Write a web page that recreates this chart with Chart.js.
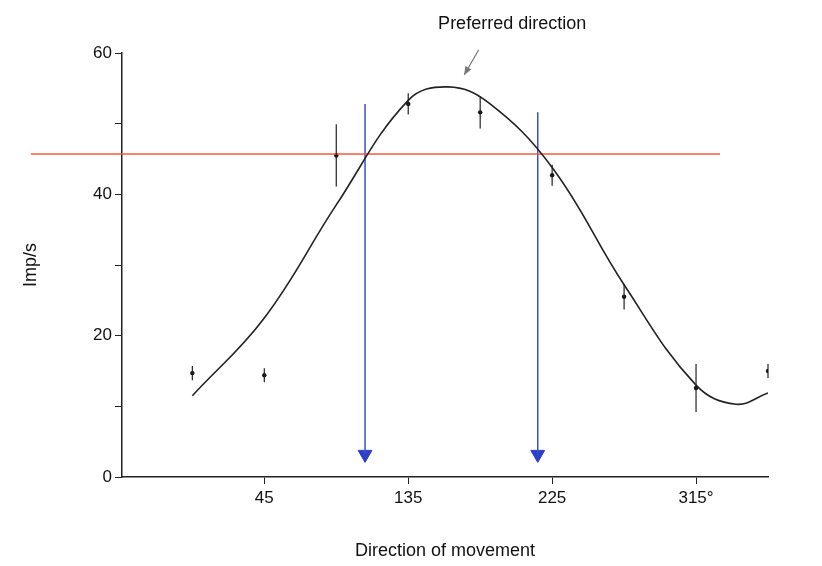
<!DOCTYPE html>
<html>
<head>
<meta charset="utf-8">
<script src="https://cdn.jsdelivr.net/npm/chart.js@4"></script>
<style>
  html, body { margin: 0; padding: 0; background: #fff; }
  #wrap { width: 822px; height: 566px; }
</style>
</head>
<body>
<div id="wrap"><canvas id="chart"></canvas></div>
<script>
// Measured points (direction in degrees, rate in imp/s, error half-height)
const directions = [0, 45, 90, 135, 180, 225, 270, 315, 360];
const rates = [14.7, 14.4, 45.5, 52.8, 51.6, 42.7, 25.5, 12.6, 15.0];
const errors = [1.0, 1.0, 4.4, 1.5, 2.3, 1.5, 1.8, 3.4, 1.0];

// Fitted tuning curve
const curveX = [0, 45, 90, 135, 160, 185, 225, 270, 315, 340, 360];
const curveY = [11.5, 22.5, 38.5, 53.3, 55.2, 53, 43.8, 27.2, 13, 10.3, 11.9];

// Half-maximum threshold line
const thresholdX = [-101, 330];
const thresholdY = [45.7, 45.7];

// Arrows at the crossing directions
const arrowX = [108, 216];
const arrowTop = [52.8, 51.6];
const arrowBottom = [1.7, 1.7];

const xTickLabels = [45, 135, 225, 315];
const yTickLabels = [0, 20, 40, 60];

const toXY = (xs, ys) => xs.map((x, i) => ({ x: x, y: ys[i] }));

const datasets = [
    {
        data: toXY(curveX, curveY), borderColor: '#222', borderWidth: 1.6,
        pointRadius: 0, tension: 0.4
    },
    {
        data: toXY(thresholdX, thresholdY), borderColor: '#f25a3c', borderWidth: 1.5,
        pointRadius: 0, clip: false
    },
    {
        data: toXY(directions, rates), showLine: false, pointRadius: 2.2,
        pointBackgroundColor: '#111', pointBorderWidth: 0
    }
];
arrowX.forEach((x, i) => {
    datasets.push({
        data: [{ x: x, y: arrowTop[i] }, { x: x, y: arrowBottom[i] + 1.5 }],
        borderColor: '#3a4fd0', borderWidth: 1.5, pointRadius: 0
    });
    datasets.push({
        data: [{ x: x, y: arrowBottom[i] + 1.5 }], showLine: false,
        pointStyle: 'triangle', rotation: 180, pointRadius: 8,
        pointBackgroundColor: '#2b3fc8', pointBorderColor: '#2b3fc8'
    });
});

// Error bars and annotation drawn through the scales
const extrasPlugin = {
    id: 'extras',
    afterDatasetsDraw(chart) {
        const ctx = chart.ctx;
        const xs = chart.scales.x, ys = chart.scales.y;
        ctx.save();
        ctx.strokeStyle = '#222';
        ctx.lineWidth = 1.2;
        directions.forEach((d, i) => {
            const px = xs.getPixelForValue(d);
            ctx.beginPath();
            ctx.moveTo(px, ys.getPixelForValue(rates[i] - errors[i]));
            ctx.lineTo(px, ys.getPixelForValue(rates[i] + errors[i]));
            ctx.stroke();
        });
        // Preferred direction label and arrow
        ctx.fillStyle = '#111';
        ctx.font = '18px "Liberation Sans", Arial, sans-serif';
        ctx.textAlign = 'center';
        ctx.textBaseline = 'middle';
        ctx.fillText('Preferred direction', xs.getPixelForValue(200), 24);
        const x1 = xs.getPixelForValue(179), y1 = 50;
        const x2 = xs.getPixelForValue(170), y2 = 75;
        ctx.strokeStyle = '#777';
        ctx.fillStyle = '#777';
        ctx.beginPath(); ctx.moveTo(x1, y1); ctx.lineTo(x2, y2); ctx.stroke();
        const ang = Math.atan2(y2 - y1, x2 - x1);
        ctx.beginPath();
        ctx.moveTo(x2, y2);
        ctx.lineTo(x2 - 9 * Math.cos(ang - 0.4), y2 - 9 * Math.sin(ang - 0.4));
        ctx.lineTo(x2 - 9 * Math.cos(ang + 0.4), y2 - 9 * Math.sin(ang + 0.4));
        ctx.closePath();
        ctx.fill();
        ctx.restore();
    }
};

new Chart(document.getElementById('chart'), {
    type: 'line',
    data: { datasets: datasets },
    plugins: [extrasPlugin],
    options: {
        responsive: true,
        maintainAspectRatio: false,
        animation: false,
        layout: { padding: { left: 16, top: 53, right: 54, bottom: 0 } },
        plugins: { legend: { display: false }, tooltip: { enabled: false } },
        scales: {
            x: {
                type: 'linear', min: -44, max: 360,
                afterBuildTicks: s => { s.ticks = xTickLabels.map(v => ({ value: v })); },
                afterFit: s => { s.height = 89; },
                grid: { display: true, drawOnChartArea: false, drawTicks: true, tickLength: 7, color: '#222' },
                border: { color: '#222', width: 1.5 },
                ticks: {
                    color: '#111', font: { size: 17, family: '"Liberation Sans", Arial' },
                    maxRotation: 0, padding: 4,
                    callback: v => v === 315 ? '315°' : String(v)
                },
                title: {
                    display: true, text: 'Direction of movement', color: '#111',
                    font: { size: 18, family: '"Liberation Sans", Arial' }, padding: { top: 12 }
                }
            },
            y: {
                min: 0, max: 60,
                afterFit: s => { s.width = 106; },
                grid: { display: true, drawOnChartArea: false, drawTicks: true, tickLength: 7, color: '#222' },
                border: { color: '#222', width: 1.5 },
                ticks: {
                    stepSize: 10, color: '#111',
                    font: { size: 17, family: '"Liberation Sans", Arial' },
                    callback: v => yTickLabels.includes(v) ? String(v) : ''
                },
                title: {
                    display: true, text: 'Imp/s', color: '#111',
                    font: { size: 18, family: '"Liberation Sans", Arial' }
                }
            }
        }
    }
});
</script>
</body>
</html>
